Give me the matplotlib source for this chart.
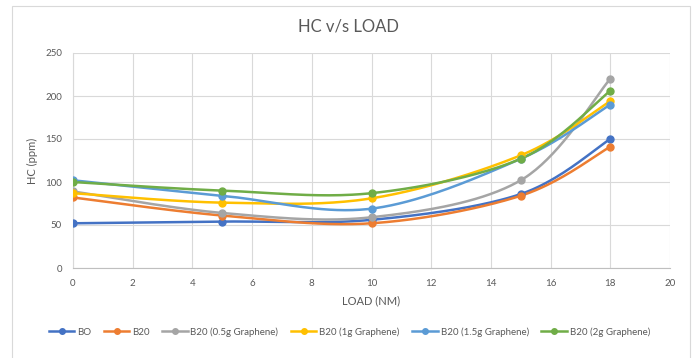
import numpy as np
import matplotlib
matplotlib.use("Agg")
import matplotlib.pyplot as plt
from matplotlib.patches import Rectangle

plt.rcParams['font.family'] = ['Lato', 'DejaVu Sans']

load = [0, 5, 10, 15, 18]
bo = [52, 54, 56, 86, 150]
b20 = [82, 61, 52, 84, 141]
b20_05g = [89, 64, 59, 102, 220]
b20_1g = [87, 76, 81, 131, 194]
b20_15g = [102, 84, 69, 127, 190]
b20_2g = [100, 90, 87, 127, 206]

names = ["BO", "B20", "B20 (0.5g Graphene)", "B20 (1g Graphene)",
         "B20 (1.5g Graphene)", "B20 (2g Graphene)"]
series = [bo, b20, b20_05g, b20_1g, b20_15g, b20_2g]
colors = ["#4472C4", "#ED7D31", "#A5A5A5", "#FFC000", "#5B9BD5", "#70AD47"]


def smooth(xs, ys, n=40):
    # excel style smoothed line: bezier segments with catmull-rom handles
    p = np.column_stack([xs, ys]).astype(float)
    pts = []
    for i in range(len(p) - 1):
        p0 = p[i - 1] if i > 0 else p[i]
        p1, p2 = p[i], p[i + 1]
        p3 = p[i + 2] if i + 2 < len(p) else p[i + 1]
        c1 = p1 + (p2 - p0) / 6
        c2 = p2 - (p3 - p1) / 6
        t = np.linspace(0, 1, n)[:, None]
        seg = ((1 - t) ** 3 * p1 + 3 * (1 - t) ** 2 * t * c1
               + 3 * (1 - t) * t ** 2 * c2 + t ** 3 * p2)
        pts.append(seg)
    pts = np.vstack(pts)
    return pts[:, 0], pts[:, 1]


fig = plt.figure(figsize=(6.99, 3.58), dpi=100)
ax = fig.add_axes([73 / 699, 1 - 268 / 358, 597 / 699, 215 / 358])

fig.patches.append(Rectangle((12 / 699, -0.1), 678 / 699, 1 - 6 / 358 + 0.1,
                             transform=fig.transFigure, fill=False,
                             edgecolor="#d9d9d9", linewidth=0.8))

for name, ys, c in zip(names, series, colors):
    sx, sy = smooth(load, ys)
    ax.plot(sx, sy, color=c, linewidth=1.8, zorder=3)
    ax.plot(load, ys, "o", color=c, markersize=5, zorder=4)
    ax.plot([], [], color=c, marker="o", markersize=4, linewidth=1.8, label=name)

ax.set_xlim(0, 20)
ax.set_ylim(0, 250)
ax.set_xticks(range(0, 21, 2))
ax.set_yticks(range(0, 251, 50))
ax.grid(True, color="#d9d9d9", linewidth=0.8)
ax.set_axisbelow(True)
for s in ["top", "right"]:
    ax.spines[s].set_visible(False)
ax.spines["left"].set_color("#d9d9d9")
ax.spines["bottom"].set_color("#bfbfbf")
ax.tick_params(length=0, labelsize=7, colors="#595959", pad=8)

fig.text(348 / 699, 1 - 27 / 358, "HC v/s LOAD", fontsize=12, color="#595959",
         ha="center", va="center")
ax.set_xlabel("LOAD (NM)", fontsize=8, color="#595959", labelpad=5)
ax.set_ylabel("HC (ppm)", fontsize=8, color="#595959", labelpad=5)

fig.legend(loc="center", bbox_to_anchor=(0.5, 1 - 332 / 358), ncol=6,
           frameon=False, fontsize=7, handlelength=2.6, columnspacing=1.3,
           handletextpad=0.3, labelcolor="#595959")

fig.savefig("out.png", dpi=100)
